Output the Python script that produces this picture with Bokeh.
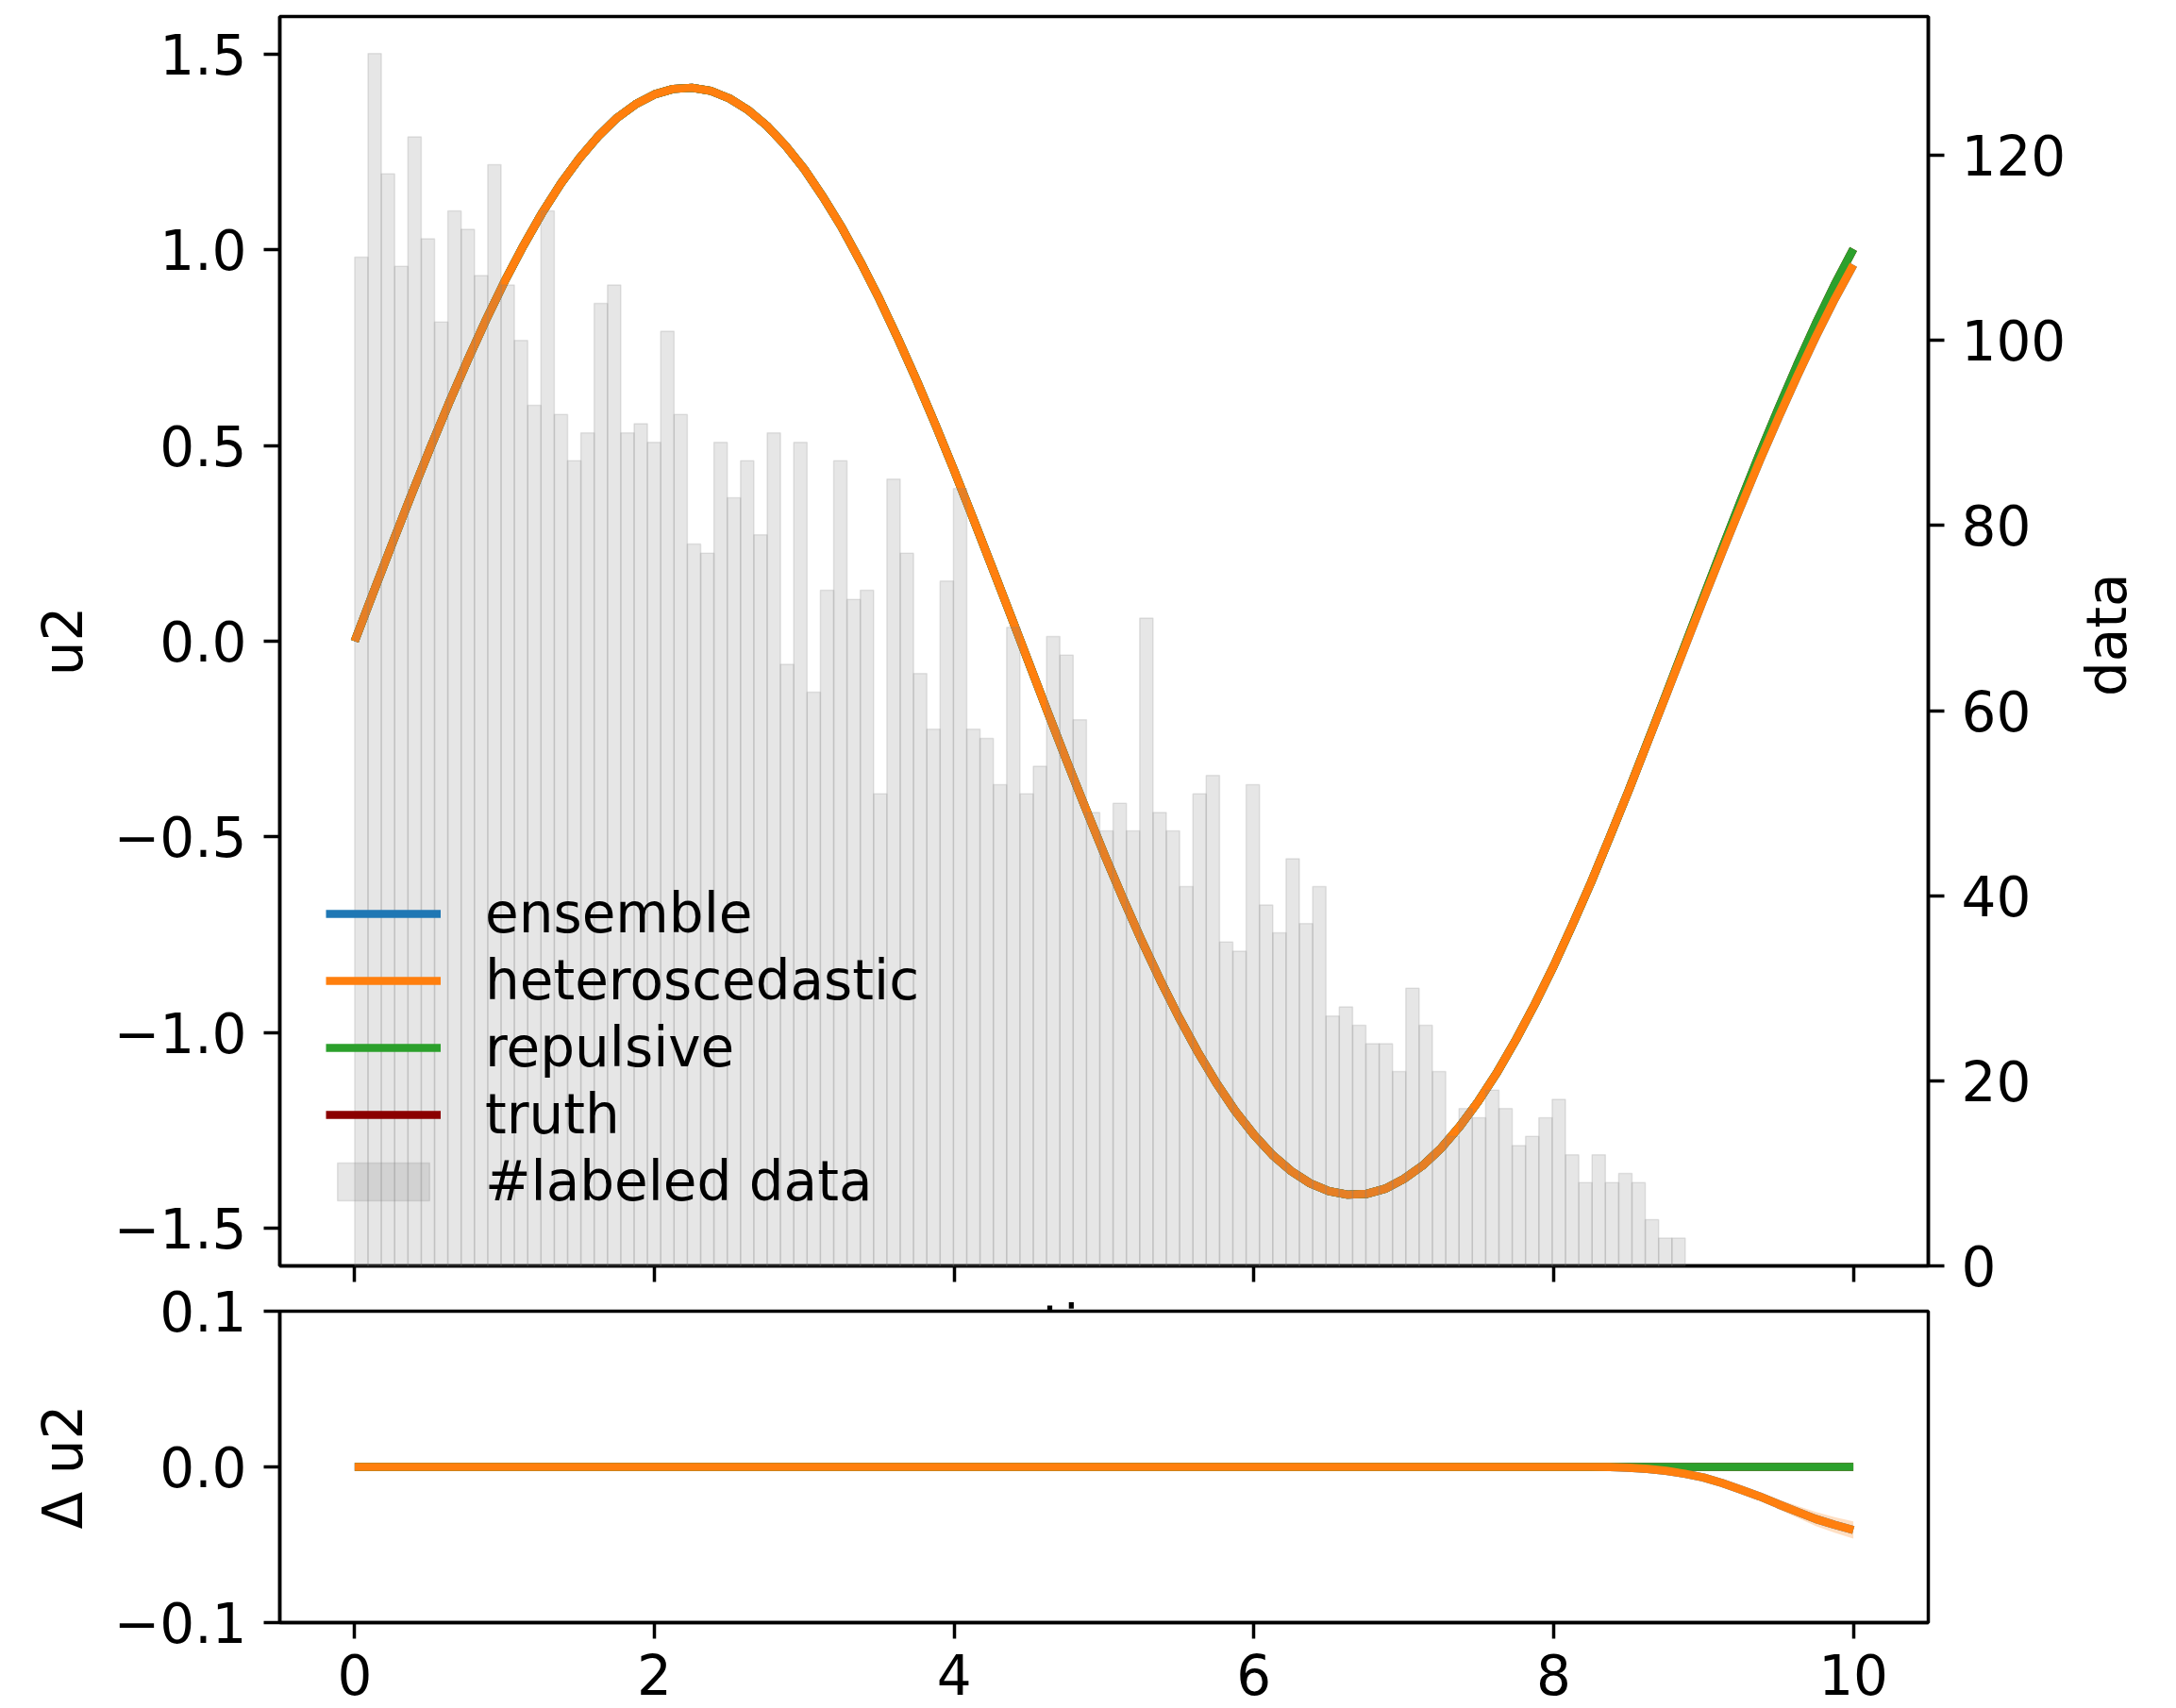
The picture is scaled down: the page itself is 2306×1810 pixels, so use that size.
import math
from bokeh.plotting import figure
from bokeh.models import (Range1d, LinearAxis, FixedTicker, CustomJSTickFormatter,
                          Legend, LegendItem)
from bokeh.core.properties import value
from bokeh.layouts import column, row
from bokeh.embed import file_html
from bokeh.resources import INLINE

# ---------------- data ----------------
time = [0.0, 0.125, 0.25, 0.375, 0.5, 0.625, 0.75, 0.875, 1.0, 1.125, 1.25, 1.375,
        1.5, 1.625, 1.75, 1.875, 2.0, 2.125, 2.25, 2.375, 2.5, 2.625, 2.75, 2.875,
        3.0, 3.125, 3.25, 3.375, 3.5, 3.625, 3.75, 3.875, 4.0, 4.125, 4.25, 4.375,
        4.5, 4.625, 4.75, 4.875, 5.0, 5.125, 5.25, 5.375, 5.5, 5.625, 5.75, 5.875,
        6.0, 6.125, 6.25, 6.375, 6.5, 6.625, 6.75, 6.875, 7.0, 7.125, 7.25, 7.375,
        7.5, 7.625, 7.75, 7.875, 8.0, 8.125, 8.25, 8.375, 8.5, 8.625, 8.75, 8.875,
        9.0, 9.125, 9.25, 9.375, 9.5, 9.625, 9.75, 9.875, 10.0]

u2_truth = [0.000, 0.125, 0.249, 0.371, 0.490, 0.605, 0.715, 0.820, 0.919, 1.010,
            1.094, 1.169, 1.234, 1.290, 1.337, 1.372, 1.397, 1.411, 1.414, 1.406,
            1.387, 1.357, 1.317, 1.266, 1.206, 1.135, 1.057, 0.969, 0.875, 0.773,
            0.666, 0.553, 0.436, 0.315, 0.192, 0.068, -0.057, -0.182, -0.305, -0.425,
            -0.543, -0.656, -0.764, -0.866, -0.961, -1.049, -1.129, -1.200, -1.261,
            -1.313, -1.354, -1.385, -1.405, -1.414, -1.412, -1.399, -1.374, -1.340,
            -1.295, -1.239, -1.174, -1.100, -1.017, -0.927, -0.830, -0.725, -0.616,
            -0.500, -0.382, -0.259, -0.136, -0.011, 0.114, 0.238, 0.360, 0.480,
            0.595, 0.706, 0.812, 0.911, 1.002]

# deviations from the truth (lower panel)
d_ensemble = [0.0] * 67 + [-0.0001, -0.0005, -0.0013, -0.0025, -0.0044, -0.0068, -0.0104,
                           -0.0146, -0.0190, -0.0240, -0.0288, -0.0335, -0.0372, -0.0405]
d_hetero = [0.0] * 67 + [-0.0001, -0.0005, -0.0013, -0.0025, -0.0044, -0.0068, -0.0104,
                         -0.0146, -0.0190, -0.0240, -0.0288, -0.0335, -0.0372, -0.0405]
d_hetero_unc = [0.0] * 70 + [0.0005, 0.0008, 0.0012, 0.0017, 0.0022, 0.0027, 0.0032,
                             0.0038, 0.0045, 0.0050, 0.0055]
d_repulsive = [0.0] * 81

# histogram of labelled data
bin_start = 0.0
bin_width = 0.08878
counts = [109, 131, 118, 108, 122, 111, 102, 114, 112, 107,
          119, 106, 100, 93, 114, 92, 87, 90, 104, 106,
          90, 91, 89, 101, 92, 78, 77, 89, 83, 87,
          79, 90, 65, 89, 62, 73, 87, 72, 73, 51,
          85, 77, 64, 58, 74, 84, 58, 57, 52, 69,
          51, 54, 68, 66, 59, 49, 47, 50, 47, 70,
          49, 47, 41, 51, 53, 35, 34, 52, 39, 36,
          44, 37, 41, 27, 28, 26, 24, 24, 21, 30,
          26, 21, 14, 17, 16, 19, 17, 13, 14, 16,
          18, 12, 9, 12, 9, 10, 9, 5, 3, 3]

x_ticks = [0, 2, 4, 6, 8, 10]
u2_ticks = [-1.5, -1.0, -0.5, 0.0, 0.5, 1.0, 1.5]
count_ticks = [0, 20, 40, 60, 80, 100, 120]
du_ticks = [-0.1, 0.0, 0.1]

# ---------------- derived ----------------
u2_ens = [a + b for a, b in zip(u2_truth, d_ensemble)]
u2_het = [a + b for a, b in zip(u2_truth, d_hetero)]
u2_rep = [a + b for a, b in zip(u2_truth, d_repulsive)]
het_lo = [a - b for a, b in zip(d_hetero, d_hetero_unc)]
het_hi = [a + b for a, b in zip(d_hetero, d_hetero_unc)]
left_edges = [bin_start + i * bin_width for i in range(len(counts))]
right_edges = [bin_start + (i + 1) * bin_width for i in range(len(counts))]

FONT = "DejaVu Sans"
FS = "58px"
LW = 8.7
C_ENS, C_HET, C_REP, C_TRU = "#1f77b4", "#ff7f0e", "#2ca02c", "#8b0000"

fmt = CustomJSTickFormatter(code="return tick.toFixed(1).replace('-', '\u2212');")
blank_fmt = CustomJSTickFormatter(code="return '';")


def style_axis(ax):
    ax.axis_line_color = "black"
    ax.axis_line_width = 3.5
    ax.major_tick_line_color = "black"
    ax.major_tick_line_width = 3.5
    ax.major_tick_out = 17
    ax.major_tick_in = 0
    ax.minor_tick_line_color = None
    ax.major_label_text_font = FONT
    ax.major_label_text_font_size = FS
    ax.major_label_text_color = "black"
    ax.axis_label_text_font = FONT
    ax.axis_label_text_font_size = FS
    ax.axis_label_text_font_style = "normal"
    ax.axis_label_text_color = "black"


def style_fig(p):
    p.outline_line_color = "black"
    p.outline_line_width = 3.5
    p.outline_line_alpha = 1.0
    p.xgrid.visible = False
    p.ygrid.visible = False
    p.background_fill_color = "white"


# ---------------- top panel ----------------
P1_BOTTOM = 110
P1_RIGHT = 152
P1_H = 17 + 1324 + P1_BOTTOM
P1_W = 296 + 1747 + P1_RIGHT
p1 = figure(frame_width=1747, frame_height=1324,
            x_range=Range1d(-0.5, 10.5), y_range=Range1d(-1.596, 1.596),
            output_backend="svg", toolbar_location=None,
            min_border_left=296, min_border_right=P1_RIGHT,
            min_border_top=17, min_border_bottom=P1_BOTTOM)
style_fig(p1)
p1.border_fill_color = "white"
p1.extra_y_ranges = {"count": Range1d(0, 135)}

xa1 = p1.below[0]
style_axis(xa1)
xa1.ticker = FixedTicker(ticks=x_ticks)
xa1.formatter = blank_fmt
xa1.major_label_text_font_size = "1px"
xa1.major_label_standoff = 0
xa1.axis_label = "time"
xa1.axis_label_standoff = 12

ya1 = p1.left[0]
style_axis(ya1)
ya1.ticker = FixedTicker(ticks=u2_ticks)
ya1.formatter = fmt
ya1.major_label_standoff = 18
ya1.axis_label = "u2"
ya1.axis_label_standoff = 17

ra = LinearAxis(y_range_name="count")
style_axis(ra)
ra.ticker = FixedTicker(ticks=count_ticks)
ra.major_label_standoff = 18
p1.add_layout(ra, "right")

r_tru = p1.line(time, u2_truth, line_color=C_TRU, line_width=LW)
r_ens = p1.line(time, u2_ens, line_color=C_ENS, line_width=LW)
r_rep = p1.line(time, u2_rep, line_color=C_REP, line_width=LW)
r_het = p1.line(time, u2_het, line_color=C_HET, line_width=LW)

r_hist = p1.quad(left=left_edges, right=right_edges, bottom=0, top=counts,
                 y_range_name="count", fill_color="gray", fill_alpha=0.2,
                 line_color="gray", line_alpha=0.2, line_width=1.5, level="overlay")

legend = Legend(items=[
    LegendItem(label="ensemble", renderers=[r_ens]),
    LegendItem(label="heteroscedastic", renderers=[r_het]),
    LegendItem(label="repulsive", renderers=[r_rep]),
    LegendItem(label="truth", renderers=[r_tru]),
    LegendItem(label="#labeled data", renderers=[r_hist]),
], location=(49, 55))
legend.label_text_font = FONT
legend.label_text_font_size = FS
legend.label_text_color = "black"
legend.glyph_width = 122
legend.glyph_height = 50
legend.label_standoff = 47
legend.spacing = 3
legend.padding = 0
legend.margin = 0
legend.background_fill_alpha = 0
legend.border_line_alpha = 0
p1.add_layout(legend)

# ---------------- strip holding the right-hand axis title ----------------
P3_W = 2306 - P1_W
p3 = figure(width=P3_W, height=P1_H, x_range=Range1d(0, P3_W), y_range=Range1d(0, P1_H),
            output_backend="svg", toolbar_location=None,
            x_axis_location=None, y_axis_location=None, min_border=0)
p3.outline_line_color = None
p3.xgrid.visible = False
p3.ygrid.visible = False
p3.text(x=[2232 - P1_W], y=[P1_H - 718], text=["data"],
        angle=math.pi / 2, text_align="center", text_baseline="middle",
        text_font=value(FONT), text_font_size=FS, text_color="black")

# ---------------- bottom panel ----------------
P2_TOP = 60
overlap = P1_H - (1389 - P2_TOP)
p2 = figure(frame_width=1747, frame_height=330,
            x_range=p1.x_range, y_range=Range1d(-0.1, 0.1),
            output_backend="svg", toolbar_location=None,
            min_border_left=296, min_border_right=263,
            min_border_top=P2_TOP, min_border_bottom=91)
style_fig(p2)
p2.border_fill_alpha = 0.0
p2.styles = {"margin-top": f"-{overlap}px"}

xa2 = p2.below[0]
style_axis(xa2)
xa2.ticker = FixedTicker(ticks=x_ticks)
xa2.major_label_standoff = 16

ya2 = p2.left[0]
style_axis(ya2)
ya2.ticker = FixedTicker(ticks=du_ticks)
ya2.formatter = fmt
ya2.major_label_standoff = 18
ya2.axis_label = "\u0394 u2"
ya2.axis_label_standoff = 17

p2.varea(x=time, y1=het_lo, y2=het_hi, fill_color=C_HET, fill_alpha=0.25)
p2.line(time, [0.0] * len(time), line_color=C_TRU, line_width=LW)
p2.line(time, d_ensemble, line_color=C_ENS, line_width=LW)
p2.line(time, d_repulsive, line_color=C_REP, line_width=LW)
p2.line(time, d_hetero, line_color=C_HET, line_width=LW)

layout = column(row(p1, p3, spacing=0), p2, spacing=0)
open("out.html", "w").write(file_html(layout, INLINE))
